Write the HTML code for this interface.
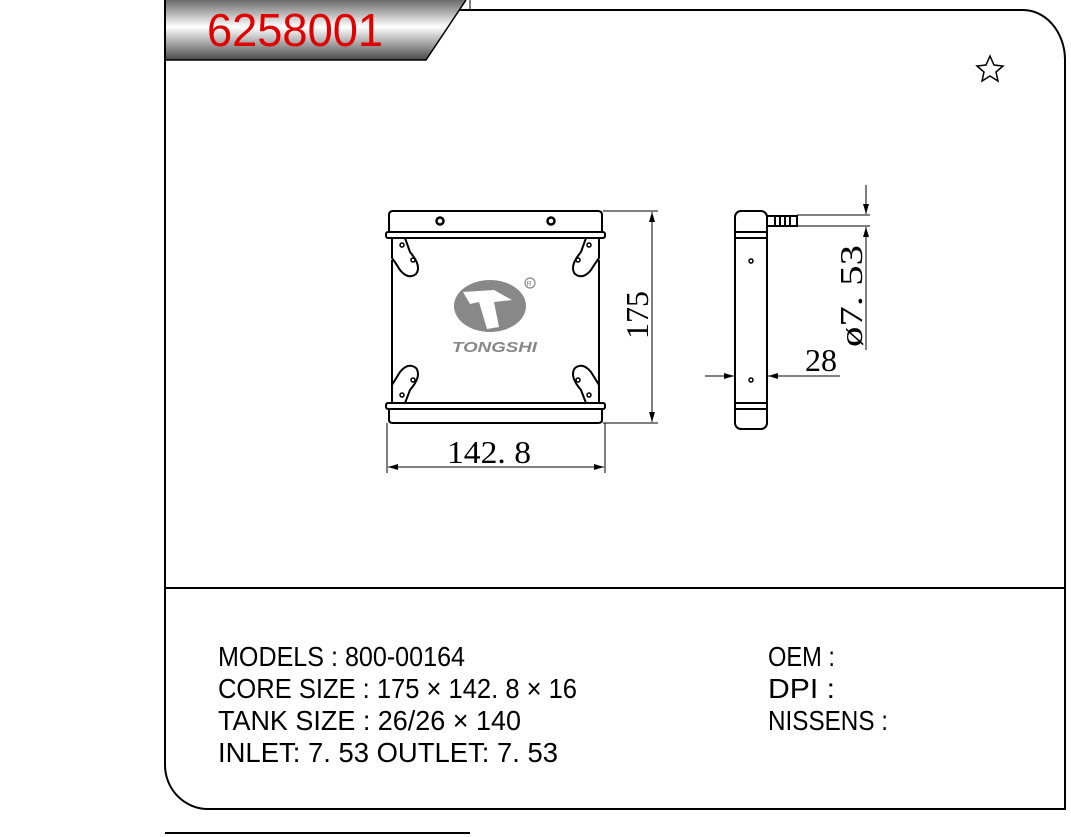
<!DOCTYPE html>
<html><head><meta charset="utf-8"><style>
html,body{margin:0;padding:0;background:#fff;width:1071px;height:837px;overflow:hidden}
svg{display:block}
.t{font-family:"Liberation Sans",sans-serif;font-size:28px;fill:#000}
.d{font-family:"Liberation Serif",serif;font-size:32px;fill:#000}
</style></head><body>
<svg width="1071" height="837" viewBox="0 0 1071 837" xmlns="http://www.w3.org/2000/svg">
<defs>
<linearGradient id="g" x1="0" y1="0" x2="0" y2="1">
<stop offset="0" stop-color="#6a6a6a"/><stop offset="0.45" stop-color="#ffffff"/><stop offset="1" stop-color="#4a4a4a"/>
</linearGradient>
<marker id="a" markerWidth="10" markerHeight="6" refX="10" refY="3" orient="auto" markerUnits="userSpaceOnUse"><path d="M0,0 L10,3 L0,6 Z" fill="#000"/></marker>
</defs>
<g fill="none" stroke="#000" stroke-width="2">
<path d="M440,10 H1022 A42,50 0 0 1 1065,60 V809 H208 A43,44 0 0 1 165,765 V0"/>
<line x1="165" y1="588" x2="1065" y2="588"/>
<line x1="165" y1="833" x2="470" y2="833"/>
</g>
<path d="M166,0 H466 L426,60 H166 Z" fill="url(#g)"/>
<path d="M466,0 L426,60 H166" fill="none" stroke="#000" stroke-width="1.5"/>
<line x1="470" y1="0" x2="470" y2="10" stroke="#000" stroke-width="1"/>
<text x="207" y="46" font-family="Liberation Sans,sans-serif" font-size="46" fill="#e00000" textLength="176" lengthAdjust="spacingAndGlyphs">6258001</text>
<path d="M990,56 L994,65 L1003,66 L996,72 L998,81 L990,76 L982,81 L984,72 L977,66 L986,65 Z" fill="none" stroke="#000" stroke-width="1.5"/>
<g fill="none" stroke="#000" stroke-width="2">
<path d="M389,232 V215 Q389,211 393,211 H598 Q602,211 602,215 V232"/>
<rect x="386" y="232" width="219" height="6" rx="2"/>
<rect x="386" y="403" width="219" height="6" rx="2"/>
<path d="M389,409 V420 Q389,423 393,423 H598 Q602,423 602,420 V409"/>
<line x1="392" y1="260" x2="392" y2="385"/>
<line x1="599" y1="260" x2="599" y2="385"/>
<path d="M392,238 V258 Q395,262 400,270 Q408,280 416,274 Q422,266 410,252 L405,238"/>
<path d="M599,238 V258 Q596,262 591,270 Q583,280 575,274 Q569,266 581,252 L586,238"/>
<path d="M392,403 V385 Q395,380 400,372 Q408,362 416,368 Q422,376 410,390 L405,403"/>
<path d="M599,403 V385 Q596,380 591,372 Q583,362 575,368 Q569,376 581,390 L586,403"/>
</g>
<g fill="none" stroke="#000" stroke-width="1.5">
<circle cx="402" cy="245" r="2"/><circle cx="413" cy="260" r="2"/>
<circle cx="589" cy="245" r="2"/><circle cx="578" cy="260" r="2"/>
<circle cx="402" cy="395" r="2"/><circle cx="413" cy="380" r="2"/>
<circle cx="589" cy="395" r="2"/><circle cx="578" cy="380" r="2"/>
</g>
<circle cx="440" cy="221" r="3.5" fill="none" stroke="#000" stroke-width="2.5"/>
<circle cx="551" cy="221" r="3.5" fill="none" stroke="#000" stroke-width="2.5"/>
<ellipse cx="490" cy="306" rx="36" ry="26" fill="#888"/>
<path d="M463,292 L494,290 L512,300 L494,302 L499,327 L487,329 L479,302 L470,304 Z" fill="#fff"/>
<circle cx="530" cy="283" r="5" fill="none" stroke="#888" stroke-width="1.2"/>
<text x="526.5" y="286" font-family="Liberation Sans,sans-serif" font-size="7" fill="#888">R</text>
<text x="452" y="352" font-family="Liberation Sans,sans-serif" font-size="15" font-weight="bold" font-style="italic" fill="#888" textLength="85" lengthAdjust="spacingAndGlyphs">TONGSHI</text>
<g stroke="#000" stroke-width="1">
<line x1="603" y1="211" x2="658" y2="211"/>
<line x1="603" y1="423" x2="658" y2="423"/>
<line x1="652" y1="212" x2="652" y2="422" marker-end="url(#a)"/>
<line x1="652" y1="422" x2="652" y2="212" marker-end="url(#a)"/>
<line x1="387" y1="423" x2="387" y2="473"/>
<line x1="605" y1="423" x2="605" y2="473"/>
<line x1="388" y1="467" x2="604" y2="467" marker-end="url(#a)"/>
<line x1="604" y1="467" x2="388" y2="467" marker-end="url(#a)"/>
</g>
<text class="d" x="447" y="463" textLength="84" lengthAdjust="spacingAndGlyphs">142. 8</text>
<text class="d" transform="translate(648,339) rotate(-90)">175</text>
<g fill="none" stroke="#000" stroke-width="2">
<rect x="735" y="211" width="32" height="218" rx="6"/>
<line x1="735" y1="232" x2="767" y2="232"/><line x1="735" y1="238" x2="767" y2="238"/>
<line x1="735" y1="403" x2="767" y2="403"/><line x1="735" y1="409" x2="767" y2="409"/>
<path d="M767,216 H797 V226 H767"/>
</g>
<g stroke="#000" stroke-width="2"><line x1="775" y1="216" x2="775" y2="226"/><line x1="780" y1="216" x2="780" y2="226"/><line x1="785" y1="216" x2="785" y2="226"/><line x1="790" y1="216" x2="790" y2="226"/></g>
<circle cx="751" cy="261" r="2" fill="none" stroke="#000" stroke-width="1.5"/>
<circle cx="751" cy="380" r="2" fill="none" stroke="#000" stroke-width="1.5"/>
<g stroke="#000" stroke-width="1">
<line x1="797" y1="215" x2="870" y2="215"/><line x1="797" y1="226" x2="870" y2="226"/>
<line x1="866" y1="185" x2="866" y2="214" marker-end="url(#a)"/>
<line x1="866" y1="350" x2="866" y2="227" marker-end="url(#a)"/>
<line x1="705" y1="376" x2="734" y2="376" marker-end="url(#a)"/>
<line x1="840" y1="376" x2="768" y2="376" marker-end="url(#a)"/>
</g>
<text class="d" x="805" y="371">28</text>
<text class="d" transform="translate(862,347) rotate(-90)" textLength="102" lengthAdjust="spacingAndGlyphs">ø7. 53</text>
<g xml:space="preserve">
<text class="t" x="218" y="666" textLength="247" lengthAdjust="spacingAndGlyphs">MODELS : 800-00164</text>
<text class="t" x="218" y="698" textLength="359" lengthAdjust="spacingAndGlyphs">CORE SIZE : 175 × 142. 8 × 16</text>
<text class="t" x="218" y="730" textLength="303" lengthAdjust="spacingAndGlyphs">TANK SIZE : 26/26 × 140</text>
<text class="t" x="218" y="762" textLength="340" lengthAdjust="spacingAndGlyphs">INLET: 7. 53  OUTLET: 7. 53</text>
<text class="t" x="768" y="666" textLength="67" lengthAdjust="spacingAndGlyphs">OEM :</text>
<text class="t" x="768" y="698" textLength="67" lengthAdjust="spacingAndGlyphs">DPI :</text>
<text class="t" x="768" y="730" textLength="120" lengthAdjust="spacingAndGlyphs">NISSENS :</text>
</g>
</svg>
</body></html>
